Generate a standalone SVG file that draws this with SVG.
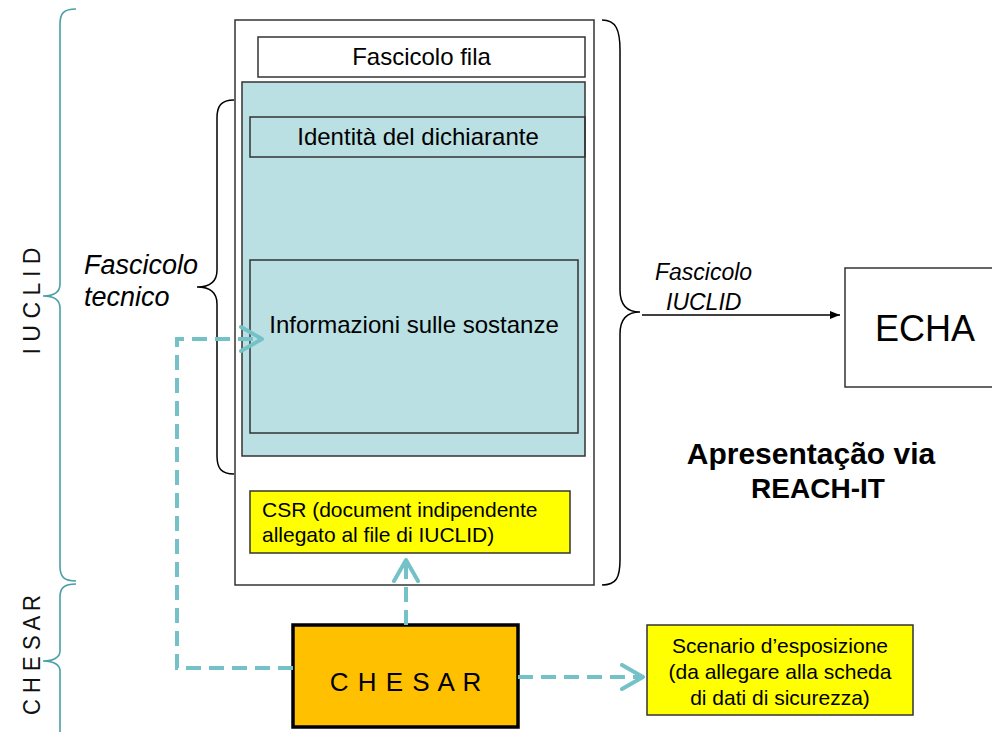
<svg xmlns="http://www.w3.org/2000/svg" width="992" height="732" viewBox="0 0 992 732">
<style>
  text { font-family: "Liberation Sans", Arial, sans-serif; fill: #000; }
  .box { stroke: #333; stroke-width: 1.5; }
  .white { fill: #fff; }
  .teal { fill: #BAE0E3; }
  .yellow { fill: #FFFF00; }
  .dash { fill: none; stroke: #74C1C8; stroke-width: 4; stroke-dasharray: 15 8; }
  .brace { fill: none; stroke: #000; stroke-width: 1.5; }
  .tbrace { fill: none; stroke: #4A9FA8; stroke-width: 1.6; }
  .lbl { font-size: 24px; }
  .it { font-style: italic; }
  .side { font-size: 24px; fill: #111; }
</style>
<defs>
  <marker id="open" markerUnits="userSpaceOnUse" viewBox="0 0 26 28" refX="23" refY="14" markerWidth="26" markerHeight="28" orient="auto">
    <path d="M2,2 L23,14 L2,26" fill="none" stroke="#74C1C8" stroke-width="4" stroke-linecap="round" stroke-linejoin="round"/>
  </marker>
  <marker id="solid" markerUnits="userSpaceOnUse" viewBox="0 0 10 8" refX="10" refY="4" markerWidth="10" markerHeight="8" orient="auto">
    <path d="M0,0 L10,4 L0,8 Z" fill="#000"/>
  </marker>
</defs>

<g id="side-labels">
  <path class="tbrace" d="M76,9 C64,9 60,13 60,24 L60,284 C60,292 54,296 43,296 C54,296 60,300 60,308 L60,566 C60,577 64,581 76,581"/>
  <text class="side" transform="translate(40,301) rotate(-90)" text-anchor="middle" textLength="107" lengthAdjust="spacingAndGlyphs">I U C L I D</text>
  <path class="tbrace" d="M76,584 C64,584 60,588 60,597 L60,651 C60,657 54,661 43,661 C54,661 60,665 60,671 L60,740"/>
  <text class="side" transform="translate(40,655) rotate(-90)" text-anchor="middle" textLength="120" lengthAdjust="spacingAndGlyphs">C H E S A R</text>
</g>

<g id="dossier">
  <rect class="box white" x="235" y="20" width="359" height="565"/>
</g>
<g id="fascicolo-fila">
  <rect class="box white" x="258" y="37" width="327" height="40"/>
  <text class="lbl" x="421.5" y="65" text-anchor="middle">Fascicolo fila</text>
</g>
<g id="fascicolo-tecnico">
  <rect class="box teal" x="242" y="82" width="343" height="374"/>
  <path class="brace" d="M234,100 C221,100 217,106 217,118 L217,270 C217,281 210,287 197,287 C210,287 217,293 217,304 L217,456 C217,468 221,474 234,474"/>
  <text class="it" font-size="27" x="84" y="274">Fascicolo</text>
  <text class="it" font-size="27" x="84" y="306">tecnico</text>
</g>
<g id="identita">
  <rect class="box" fill="none" x="250" y="117" width="335" height="40"/>
  <text class="lbl" x="418" y="145" text-anchor="middle">Identità del dichiarante</text>
</g>
<g id="informazioni">
  <rect class="box" fill="none" x="250" y="260" width="328" height="173"/>
  <text class="lbl" x="414" y="333" text-anchor="middle">Informazioni sulle sostanze</text>
</g>
<g id="csr">
  <rect class="box yellow" x="250" y="491" width="320" height="62"/>
  <text font-size="21" x="262" y="517">CSR (document indipendente</text>
  <text font-size="21" x="262" y="542">allegato al file di IUCLID)</text>
</g>
<g id="fascicolo-iuclid">
  <path class="brace" d="M602,20 C616,20 620,30 620,50 L620,290 C620,305 627,312 640,312 C627,312 620,319 620,334 L620,560 C620,578 616,585 602,585"/>
  <text class="it" font-size="23" x="655" y="280">Fascicolo</text>
  <text class="it" font-size="23" x="666" y="310">IUCLID</text>
</g>
<g id="echa">
  <rect class="box white" x="845" y="268" width="160" height="119"/>
  <text font-size="36" x="925" y="341" text-anchor="middle">ECHA</text>
</g>
<g id="reach-it">
  <text font-size="30" font-weight="bold" x="811" y="464" text-anchor="middle">Apresentação via</text>
  <text font-size="28" font-weight="bold" x="818" y="498" text-anchor="middle">REACH-IT</text>
</g>
<g id="chesar">
  <rect x="293" y="625" width="225" height="102" fill="#FFC000" stroke="#000" stroke-width="3.5"/>
  <text font-size="26" x="406" y="691" text-anchor="middle" letter-spacing="1">C H E S A R</text>
</g>
<g id="scenario">
  <rect class="box yellow" x="647" y="625" width="266" height="90"/>
  <text font-size="21" x="780" y="653" text-anchor="middle">Scenario d’esposizione</text>
  <text font-size="21" x="780" y="679" text-anchor="middle">(da allegare alla scheda</text>
  <text font-size="21" x="780" y="705" text-anchor="middle">di dati di sicurezza)</text>
</g>

<g id="connectors">
  <line x1="642" y1="315" x2="840" y2="315" stroke="#000" stroke-width="1.5" marker-end="url(#solid)"/>
  <path class="dash" d="M293,668 L177,668 L177,339 L262,339" marker-end="url(#open)"/>
  <path class="dash" d="M406,625 L406,560" marker-end="url(#open)"/>
  <path class="dash" d="M518,677 L643,677" marker-end="url(#open)"/>
</g>
</svg>
